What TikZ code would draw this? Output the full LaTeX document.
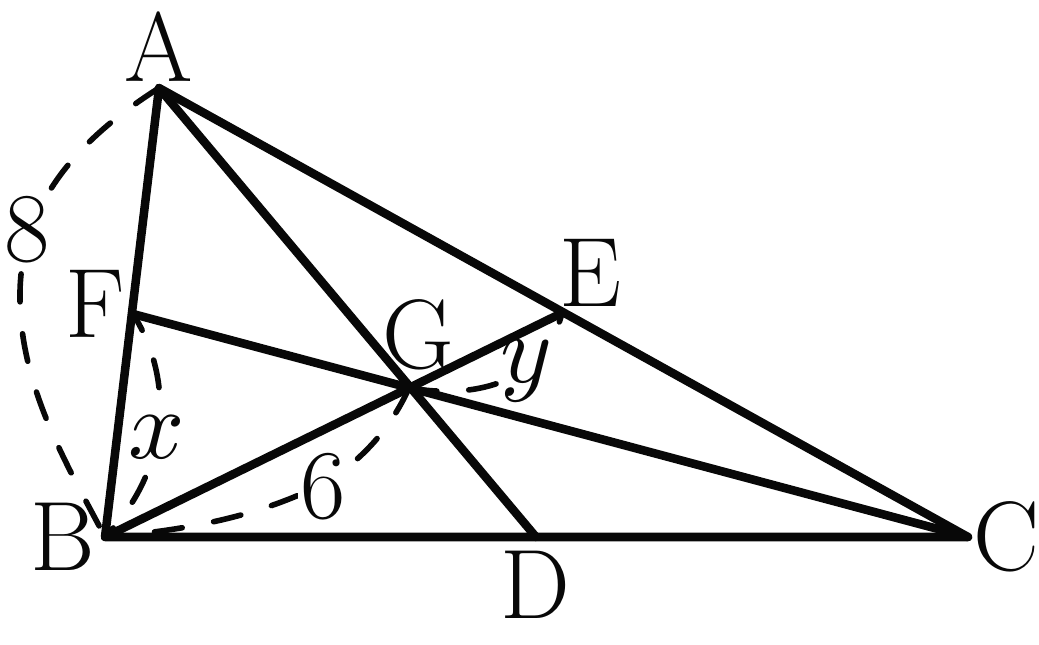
\documentclass[tikz,border=0pt]{standalone}
\usepackage{graphicx}
\tikzset{
  x=0.75pt,y=-0.75pt,
  edge/.style={line width=6.4pt,line cap=round,line join=round,black!97},
  measure/.style={line width=4.2pt,line cap=round,black!97},
  lab/.style={font=\fontsize{74}{80}\selectfont,inner sep=0pt,text=black!97},
}
\newcommand{\bigmath}[1]{\scalebox{7.4}{\normalsize$#1$}}
\begin{document}
\begin{tikzpicture}
\useasboundingbox (0,0) rectangle (1039,645);
\coordinate (A) at (159,88);
\coordinate (B) at (105,537);
\coordinate (C) at (968,537);
\coordinate (D) at (536,537);
\coordinate (E) at (562,313);
\coordinate (F) at (133,314);
\coordinate (G) at (409,388);
\coordinate (M) at (323,484);
\draw[measure,dash pattern=on 21pt off 24pt] (A) .. controls (85,135) and (18,200) .. (20,300) .. controls (21,390) and (70,470) .. (B);
\draw[measure,dash pattern=on 21pt off 24pt,dash phase=7pt] (F) .. controls (175,380) and (170,470) .. (B);
\draw[measure,dash pattern=on 21pt off 24pt] (G) .. controls (390,430) and (360,462) .. (M);
\draw[measure,dash pattern=on 21pt off 24pt,dash phase=24pt] (M) .. controls (280,505) and (220,528) .. (B);
\draw[measure,dash pattern=on 21pt off 24pt] (G) .. controls (480,400) and (545,380) .. (E);
\node[lab] (la) at (159,47) {A};
\node[lab] (lb) at (63,537) {B};
\node[lab] (lc) at (1006,537) {C};
\node[lab] (ld) at (535,585) {D};
\node[lab] (le) at (590,273) {E};
\node[lab] (lf) at (95,304) {F};
\node[lab] (lg) at (418,335) {G};
\node[lab,fill=white,inner sep=3pt] (l8) at (27,230) {8};
\node[lab,fill=white,inner sep=2pt] (lx) at (157,437) {\bigmath{x}};
\node[lab,fill=white] (ly) at (526,371) {\bigmath{y}};
\node[lab,fill=white,inner sep=2pt] (l6) at (323,487) {6};
\draw[edge] (A)--(B)--(C)--cycle;
\draw[edge] (A)--(D);
\draw[edge] (B)--(E);
\draw[edge] (C)--(F);
\end{tikzpicture}
\end{document}
